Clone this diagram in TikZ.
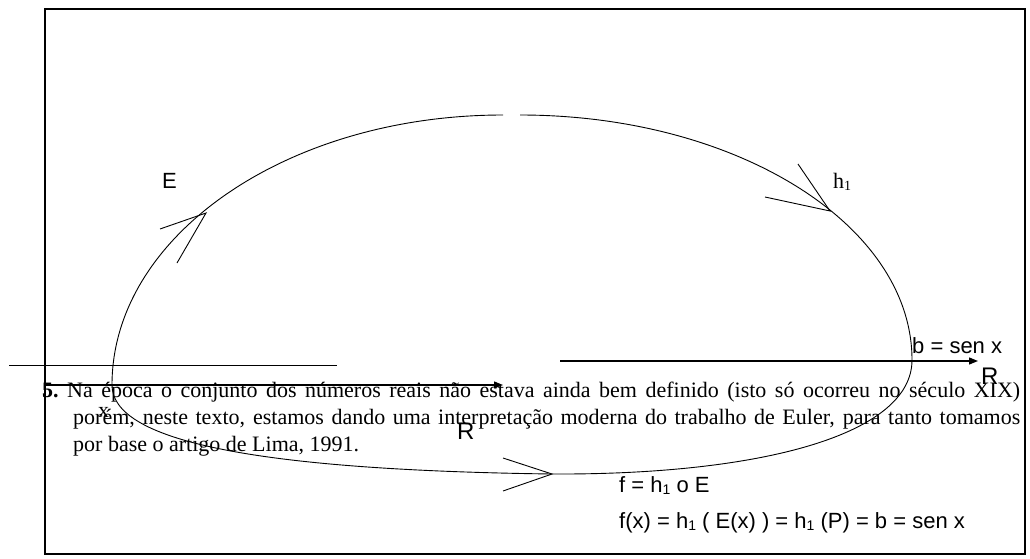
\documentclass[tikz,border=0pt]{standalone}
\usepackage{fontspec}
\setmainfont{Liberation Serif}
\newfontfamily\arialf{Liberation Sans}
\usetikzlibrary{arrows.meta}
\newcommand\sbone{\raisebox{-2pt}{\fontsize{14}{14}\selectfont 1}}
\begin{document}
\begin{tikzpicture}[x=1pt,y=-1pt,
  sanslbl/.style={inner sep=0pt,anchor=base west,font=\arialf\fontsize{22}{26}\selectfont},
  seriflbl/.style={inner sep=0pt,anchor=base west,font=\fontsize{22}{26}\selectfont},
  boldlbl/.style={inner sep=0pt,anchor=base west,font=\fontsize{22}{26}\selectfont\bfseries},
  bigR/.style={inner sep=0pt,anchor=base west,font=\arialf\fontsize{24}{28}\selectfont},
  curve/.style={line width=0.9pt},
  vtip/.style={line width=0.9pt},
  thinline/.style={line width=0.9pt},
  axis/.style={line width=1.3pt,-{Triangle[length=9pt,width=7pt]}},
  frame/.style={line width=2.2pt},
]
\useasboundingbox (0,0) rectangle (1030,559);
\draw[frame] (45,9) rectangle (1025,554);

% closed loop (two arcs meeting at the lower arrow)
\coordinate (topL) at (503,115);
\coordinate (topR) at (520,115);
\coordinate (meet) at (552,474);
\draw[curve] (topL) arc[start angle=90,end angle=180,x radius=391pt,y radius=270pt]
   .. controls (112,440) and (250,470) .. (meet);
\draw[curve] (topR) arc[start angle=90,end angle=0,x radius=392pt,y radius=245pt]
   .. controls (912,435) and (760,475) .. (meet);

% open arrow tips on the loop
\coordinate (eA) at (160,229); \coordinate (eT) at (206,213); \coordinate (eB) at (177,263);
\draw[vtip] (eA) -- (eT) -- (eB);
\coordinate (hA) at (798,164); \coordinate (hT) at (830,211); \coordinate (hB) at (765,197);
\draw[vtip] (hA) -- (hT) -- (hB);
\coordinate (fA) at (503,458); \coordinate (fB) at (503,491);
\draw[vtip] (fA) -- (meet) -- (fB);

% lines and axes
\coordinate (tl1) at (9,365); \coordinate (tl2) at (337,365);
\draw[thinline] (tl1) -- (tl2);
\coordinate (ax1s) at (45,385); \coordinate (ax1e) at (503,385);
\draw[axis] (ax1s) -- (ax1e);
\coordinate (ax2s) at (560,361); \coordinate (ax2e) at (978,361);
\draw[axis] (ax2s) -- (ax2e);

% footnote paragraph
\node[boldlbl] (num) at (42,397) {5.};
\node[seriflbl] (l1) at (67,397) {\makebox[953pt][s]{Na época o conjunto dos números reais não estava ainda bem definido (isto só ocorreu no século XIX)}};
\node[seriflbl] (l2) at (73,424) {\makebox[947pt][s]{porém, neste texto, estamos dando uma interpretação moderna do trabalho de Euler, para tanto tomamos}};
\node[seriflbl] (l3) at (73,451) {por base o artigo de Lima, 1991.};

% labels
\node[sanslbl] (E) at (162,188) {E};
\node[seriflbl] (h1) at (833,188) {h\sbone};
\node[sanslbl] (b) at (912,353) {b = sen x};
\node[seriflbl] (x) at (98,417) {x};
\node[bigR] (R1) at (981,384) {R};
\node[bigR] (R2) at (457,439) {R};
\node[sanslbl] (f1) at (619,492) {f = h\sbone{} o E};
\node[sanslbl] (f2) at (619,528) {f(x) = h\sbone{} ( E(x) ) = h\sbone{} (P) = b = sen x};
\end{tikzpicture}
\end{document}
